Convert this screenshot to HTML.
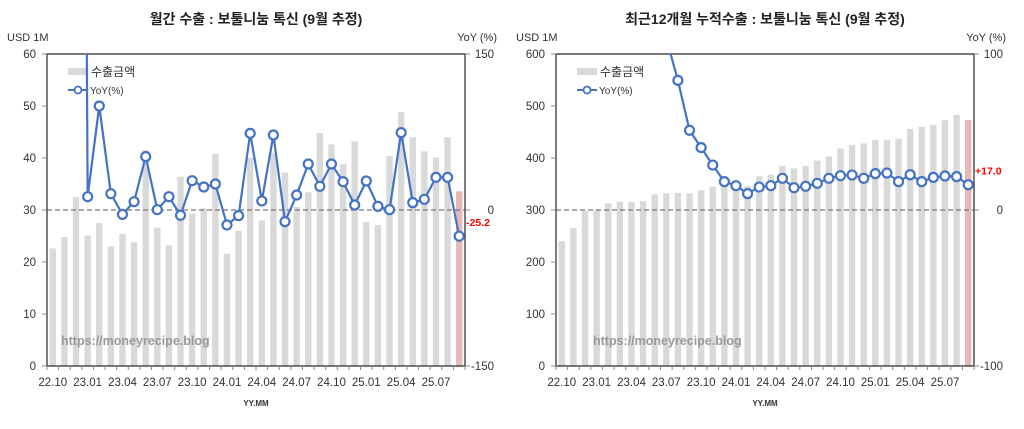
<!DOCTYPE html>
<html><head><meta charset="utf-8">
<style>
html,body{margin:0;padding:0;background:#fff;}
body{width:1024px;height:424px;overflow:hidden;}
svg text{font-family:"Liberation Sans","Noto Sans CJK KR",sans-serif;}
</style></head>
<body>
<svg id="chart" width="1024" height="424" xmlns="http://www.w3.org/2000/svg"></svg>
<script>
const months = ["22.10","22.11","22.12","23.01","23.02","23.03","23.04","23.05","23.06","23.07","23.08","23.09","23.10","23.11","23.12","24.01","24.02","24.03","24.04","24.05","24.06","24.07","24.08","24.09","24.10","24.11","24.12","25.01","25.02","25.03","25.04","25.05","25.06","25.07","25.08","25.09"];
const tickLabels = ["22.10","23.01","23.04","23.07","23.10","24.01","24.04","24.07","24.10","25.01","25.04","25.07"];
const monthlyExport = [22.6,24.8,32.5,25.1,27.5,23.0,25.4,23.8,41.5,26.6,23.2,36.4,29.3,30.3,40.8,21.6,26.0,40.0,28.0,41.0,37.2,30.6,33.4,44.8,42.6,38.8,43.2,27.7,27.1,40.4,48.8,44.0,41.3,40.1,44.0,33.6];
const monthlyYoY = [null,null,2000,12.8,100,15.7,-4.2,8,51.3,0.3,12.8,-5.1,28.2,22.1,25,-14.4,-5.4,73.7,8.7,72.1,-11.2,14.4,44.2,22.8,44.2,27.2,4.8,27.9,3.5,0.3,74.4,7.1,10.3,31.4,31.4,-25.2];
const rollingExport = [240,265,298,300,313,316,315,317,330,332,333,332,338,345,348,350,346,365,368,385,380,385,395,403,418,425,428,435,435,437,456,460,464,473,483,473];
const rollingYoY = [null,null,null,null,null,null,null,null,300,110,83.1,51.1,40,28.8,18.2,15.6,10.5,14.7,15.6,20.3,14.3,15.2,17.1,20.3,22,22.4,20.3,23.3,23.7,18.2,22.6,18.2,20.9,21.8,21.4,16.2];
const leftTicks1 = [0,10,20,30,40,50,60];
const rightTicks1 = [-150,0,150];
const leftTicks2 = [0,100,200,300,400,500,600];
const rightTicks2 = [-100,0,100];

const svg = document.getElementById('chart');
const NS = "http://www.w3.org/2000/svg";
function mk(tag, attrs, parent){const e=document.createElementNS(NS,tag);for(const k in attrs)e.setAttribute(k,attrs[k]);(parent||svg).appendChild(e);return e;}
function txt(s, attrs, parent){const e=mk('text',attrs,parent);e.textContent=s;return e;}

function drawChart(o){
  const g = mk('g',{});
  
  
  const L=o.x0,R=o.x1,T=54,B=366;
  const n=months.length, step=(R-L)/n;
  const xc=i=>L+step*(i+0.5);
  const yL=v=>B-(v-o.lmin)/(o.lmax-o.lmin)*(B-T);
  const yR=v=>B-(v-o.rmin)/(o.rmax-o.rmin)*(B-T);
  let t=txt(o.title,{x:(L+R)/2,y:24,'text-anchor':'middle','font-size':14,'font-weight':'bold',fill:'#222'},g);
  
  t=txt('USD 1M',{x:o.x0-40,y:41,'font-size':11,fill:'#333'},g);
  
  t=txt('YoY (%)',{x:R+32,y:41,'text-anchor':'end','font-size':11,fill:'#333'},g);
  
  // bars
  o.bars.forEach((v,i)=>{
    const r=mk('rect',{x:xc(i)-3.2,y:yL(v),width:6.4,height:B-yL(v),fill:i===n-1?'#e6b8b7':'#d9d9d9'},g);
    
    
  });
  // zero line
  const z=mk('line',{x1:L,x2:R,y1:yR(0),y2:yR(0),stroke:'#777','stroke-width':1.3,'stroke-dasharray':'5,3'},g);
  
  // frame
  const f=mk('rect',{x:L,y:T,width:R-L,height:B-T,fill:'none',stroke:'#333','stroke-width':1.3},g);
  
  // left ticks
  o.lt.forEach(v=>{
    mk('line',{x1:L-5,x2:L,y1:yL(v),y2:yL(v),stroke:'#888'},g);
    const e=txt(String(v),{x:L-11,y:yL(v)+4,'text-anchor':'end','font-size':11.5,fill:'#333'},g);
    
  });
  o.rt.forEach(v=>{
    mk('line',{x1:R,x2:R+5,y1:yR(v),y2:yR(v),stroke:'#888'},g);
    const e=txt(String(v),{x:R+29,y:yR(v)+4,'text-anchor':'end','font-size':11.5,fill:'#333'},g);
    
  });
  for(let i=0;i<=n;i++) mk('line',{x1:L+step*i,x2:L+step*i,y1:B,y2:B+4,stroke:'#888'},g);
  tickLabels.forEach(lab=>{
    const i=months.indexOf(lab);
    const e=txt(lab,{x:xc(i),y:386,'text-anchor':'middle','font-size':11.5,fill:'#333'},g);
    
  });
  t=txt('YY.MM',{x:(L+R)/2,y:406,'text-anchor':'middle','font-size':8,'font-weight':'bold',fill:'#333'},g);
  
  t=txt('https://moneyrecipe.blog',{x:o.wmX,y:345,'font-size':12.5,'font-weight':'bold',fill:'#999'},g);
  
  // legend
  const lg=mk('g',{},g);
  
  mk('rect',{x:L+21,y:68,width:20,height:7,fill:'#d9d9d9'},lg);
  txt('수출금액',{x:L+44,y:76,'font-size':12,fill:'#333'},lg);
  mk('line',{x1:L+21,x2:L+41,y1:90,y2:90,stroke:'#4472c4','stroke-width':2},lg);
  mk('circle',{cx:L+31,cy:90,r:3.5,fill:'#fff',stroke:'#4472c4','stroke-width':1.8},lg);
  txt('YoY(%)',{x:L+43,y:94,'font-size':10,fill:'#333'},lg);
  // line
  const cid='clip'+o.name;
  const cp=mk('clipPath',{id:cid},g);
  mk('rect',{x:L,y:T,width:R-L,height:B-T},cp);
  let d='';
  o.yoy.forEach((v,i)=>{if(v===null)return;d+=(d?'L':'M')+xc(i)+','+yR(v);});
  const p=mk('path',{d:d,fill:'none',stroke:'#4472c4','stroke-width':2.2,'clip-path':'url(#'+cid+')'},g);
  
  o.yoy.forEach((v,i)=>{
    if(v===null||v>o.rmax)return;
    const c=mk('circle',{cx:xc(i),cy:yR(v),r:4.5,fill:'#fff',stroke:'#4472c4','stroke-width':2.2},g);
    
    
  });
  const last=o.yoy[n-1];
  t=txt(o.lastLabel,{x:R+1,y:yR(last)+o.labDy,'font-size':10.5,'font-weight':'bold',fill:'#ff0000'},g);
  
}
drawChart({name:'monthly-export-chart',title:'월간 수출 : 보툴니눔 톡신 (9월 추정)',x0:47,x1:465,lmin:0,lmax:60,rmin:-150,rmax:150,bars:monthlyExport,yoy:monthlyYoY,lt:leftTicks1,rt:rightTicks1,wmX:61,lastLabel:monthlyYoY[35].toFixed(1),labDy:-10});
drawChart({name:'rolling-export-chart',title:'최근12개월 누적수출 : 보툴니눔 톡신 (9월 추정)',x0:556,x1:974,lmin:0,lmax:600,rmin:-100,rmax:100,bars:rollingExport,yoy:rollingYoY,lt:leftTicks2,rt:rightTicks2,wmX:593,lastLabel:'+17.0',labDy:-10});
</script>
</body></html>
